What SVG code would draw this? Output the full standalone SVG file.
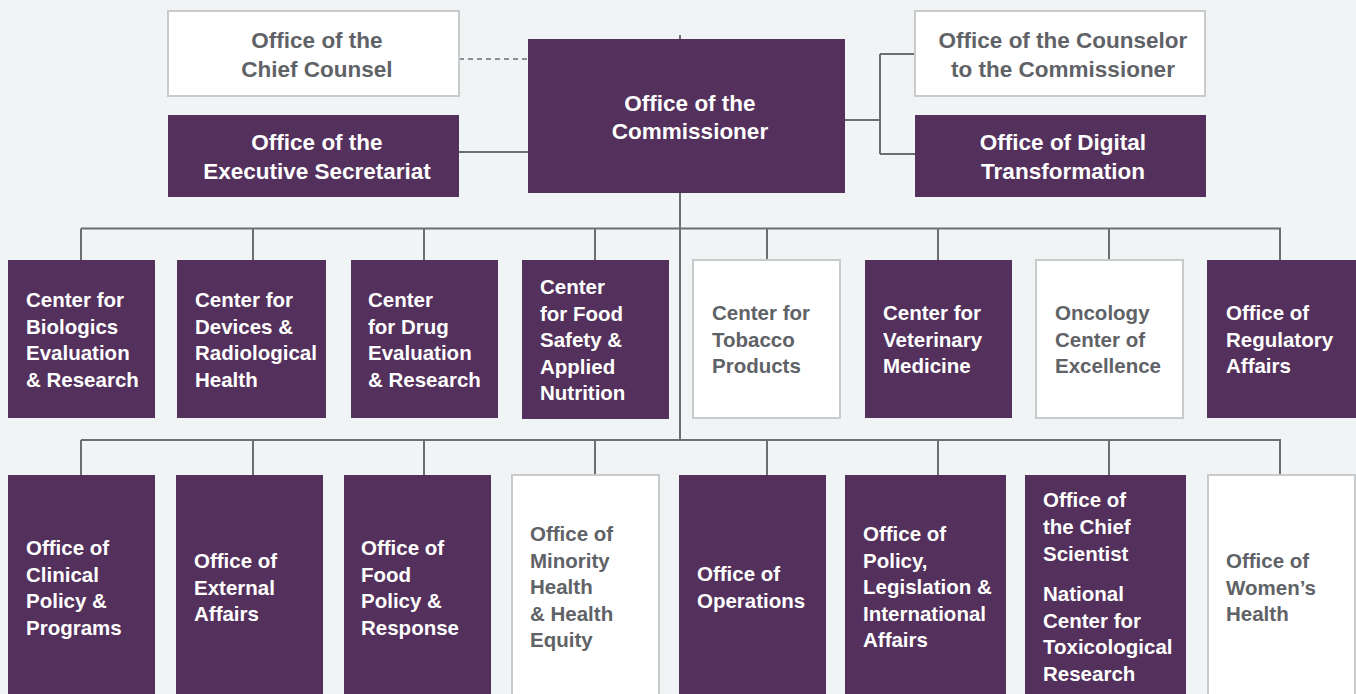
<svg xmlns="http://www.w3.org/2000/svg" width="1356" height="694" viewBox="0 0 1356 694">
  <style>
    .bg { fill: #f1f4f5; }
    .dark { fill: #54305c; }
    .light { fill: #ffffff; stroke: #c9cacb; stroke-width: 2; }
    .wire { fill: none; stroke: #6d6e71; stroke-width: 2; }
    .dash { stroke-dasharray: 5 4; stroke-width: 1.6; }
    text { font-family: "Liberation Sans", Arial, sans-serif; font-weight: bold; }
    .top { font-size: 22.5px; text-anchor: middle; }
    .unit { font-size: 20.5px; }
    .onDark { fill: #ffffff; }
    .onLight { fill: #5f6266; }
  </style>

  <rect class="bg" x="0" y="0" width="1356" height="694"/>

  <!-- connectors -->
  <g id="connectors">
    <path class="wire dash" d="M459 59 H528"/>
    <path class="wire" d="M459 152 H528"/>
    <path class="wire" d="M680 35 V39"/>
    <path class="wire" d="M845 120 H880 M880 54 V154 M880 54 H915 M880 154 H915"/>
    <path class="wire" d="M680 193 V440"/>
    <path class="wire" d="M81 228.5 H1281 M81 228.5 V260 M253 228.5 V260 M424 228.5 V260 M595 228.5 V260 M767 228.5 V260 M938 228.5 V260 M1109 228.5 V260 M1280 228.5 V260"/>
    <path class="wire" d="M81 440 H1281 M81 440 V475 M253 440 V475 M424 440 V475 M595 440 V475 M767 440 V475 M938 440 V475 M1109 440 V475 M1280 440 V475"/>
  </g>

  <!-- top tier -->
  <g id="chief-counsel">
    <rect class="light" x="168" y="11" width="291" height="85"/>
    <text class="top onLight" x="317" y="48">Office of the</text>
    <text class="top onLight" x="317" y="77">Chief Counsel</text>
  </g>
  <g id="executive-secretariat">
    <rect class="dark" x="168" y="115" width="291" height="82"/>
    <text class="top onDark" x="317" y="150">Office of the</text>
    <text class="top onDark" x="317" y="179">Executive Secretariat</text>
  </g>
  <g id="commissioner">
    <rect class="dark" x="528" y="39" width="317" height="154"/>
    <text class="top onDark" x="690" y="110.5">Office of the</text>
    <text class="top onDark" x="690" y="139">Commissioner</text>
  </g>
  <g id="counselor">
    <rect class="light" x="915" y="11" width="290" height="85"/>
    <text class="top onLight" x="1063" y="48">Office of the Counselor</text>
    <text class="top onLight" x="1063" y="77">to the Commissioner</text>
  </g>
  <g id="digital-transformation">
    <rect class="dark" x="915" y="115" width="291" height="82"/>
    <text class="top onDark" x="1063" y="150">Office of Digital</text>
    <text class="top onDark" x="1063" y="179">Transformation</text>
  </g>

  <!-- centers -->
  <g id="cber">
    <rect class="dark" x="8" y="260" width="147" height="158"/>
    <text class="unit onDark" x="26" y="307">Center for<tspan x="26" dy="26.5">Biologics</tspan><tspan x="26" dy="26.5">Evaluation</tspan><tspan x="26" dy="26.5">&amp; Research</tspan></text>
  </g>
  <g id="cdrh">
    <rect class="dark" x="177" y="260" width="149" height="158"/>
    <text class="unit onDark" x="195" y="307">Center for<tspan x="195" dy="26.5">Devices &amp;</tspan><tspan x="195" dy="26.5">Radiological</tspan><tspan x="195" dy="26.5">Health</tspan></text>
  </g>
  <g id="cder">
    <rect class="dark" x="351" y="260" width="147" height="158"/>
    <text class="unit onDark" x="368" y="307">Center<tspan x="368" dy="26.5">for Drug</tspan><tspan x="368" dy="26.5">Evaluation</tspan><tspan x="368" dy="26.5">&amp; Research</tspan></text>
  </g>
  <g id="cfsan">
    <rect class="dark" x="522" y="260" width="147" height="159"/>
    <text class="unit onDark" x="540" y="294">Center<tspan x="540" dy="26.5">for Food</tspan><tspan x="540" dy="26.5">Safety &amp;</tspan><tspan x="540" dy="26.5">Applied</tspan><tspan x="540" dy="26.5">Nutrition</tspan></text>
  </g>
  <g id="ctp">
    <rect class="light" x="693" y="260" width="147" height="158"/>
    <text class="unit onLight" x="712" y="320">Center for<tspan x="712" dy="26.5">Tobacco</tspan><tspan x="712" dy="26.5">Products</tspan></text>
  </g>
  <g id="cvm">
    <rect class="dark" x="865" y="260" width="147" height="158"/>
    <text class="unit onDark" x="883" y="320">Center for<tspan x="883" dy="26.5">Veterinary</tspan><tspan x="883" dy="26.5">Medicine</tspan></text>
  </g>
  <g id="oce">
    <rect class="light" x="1036" y="260" width="147" height="158"/>
    <text class="unit onLight" x="1055" y="320">Oncology<tspan x="1055" dy="26.5">Center of</tspan><tspan x="1055" dy="26.5">Excellence</tspan></text>
  </g>
  <g id="ora">
    <rect class="dark" x="1207" y="260" width="149" height="158"/>
    <text class="unit onDark" x="1226" y="320">Office of<tspan x="1226" dy="26.5">Regulatory</tspan><tspan x="1226" dy="26.5">Affairs</tspan></text>
  </g>

  <!-- offices -->
  <g id="clinical-policy">
    <rect class="dark" x="8" y="475" width="147" height="225"/>
    <text class="unit onDark" x="26" y="555">Office of<tspan x="26" dy="26.5">Clinical</tspan><tspan x="26" dy="26.5">Policy &amp;</tspan><tspan x="26" dy="26.5">Programs</tspan></text>
  </g>
  <g id="external-affairs">
    <rect class="dark" x="176" y="475" width="147" height="225"/>
    <text class="unit onDark" x="194" y="568">Office of<tspan x="194" dy="26.5">External</tspan><tspan x="194" dy="26.5">Affairs</tspan></text>
  </g>
  <g id="food-policy">
    <rect class="dark" x="344" y="475" width="147" height="225"/>
    <text class="unit onDark" x="361" y="555">Office of<tspan x="361" dy="26.5">Food</tspan><tspan x="361" dy="26.5">Policy &amp;</tspan><tspan x="361" dy="26.5">Response</tspan></text>
  </g>
  <g id="minority-health">
    <rect class="light" x="512" y="475" width="147" height="225"/>
    <text class="unit onLight" x="530" y="541">Office of<tspan x="530" dy="26.5">Minority</tspan><tspan x="530" dy="26.5">Health</tspan><tspan x="530" dy="26.5">&amp; Health</tspan><tspan x="530" dy="26.5">Equity</tspan></text>
  </g>
  <g id="operations">
    <rect class="dark" x="679" y="475" width="147" height="225"/>
    <text class="unit onDark" x="697" y="581">Office of<tspan x="697" dy="26.5">Operations</tspan></text>
  </g>
  <g id="policy-legislation">
    <rect class="dark" x="845" y="475" width="161" height="225"/>
    <text class="unit onDark" x="863" y="541">Office of<tspan x="863" dy="26.5">Policy,</tspan><tspan x="863" dy="26.5">Legislation &amp;</tspan><tspan x="863" dy="26.5">International</tspan><tspan x="863" dy="26.5">Affairs</tspan></text>
  </g>
  <g id="chief-scientist">
    <rect class="dark" x="1025" y="475" width="161" height="225"/>
    <text class="unit onDark" x="1043" y="507">Office of<tspan x="1043" dy="26.8">the Chief</tspan><tspan x="1043" dy="26.8">Scientist</tspan></text>
    <text class="unit onDark" x="1043" y="601">National<tspan x="1043" dy="26.5">Center for</tspan><tspan x="1043" dy="26.5">Toxicological</tspan><tspan x="1043" dy="26.5">Research</tspan></text>
  </g>
  <g id="womens-health">
    <rect class="light" x="1208" y="475" width="147" height="225"/>
    <text class="unit onLight" x="1226" y="568">Office of<tspan x="1226" dy="26.5">Women’s</tspan><tspan x="1226" dy="26.5">Health</tspan></text>
  </g>
</svg>
